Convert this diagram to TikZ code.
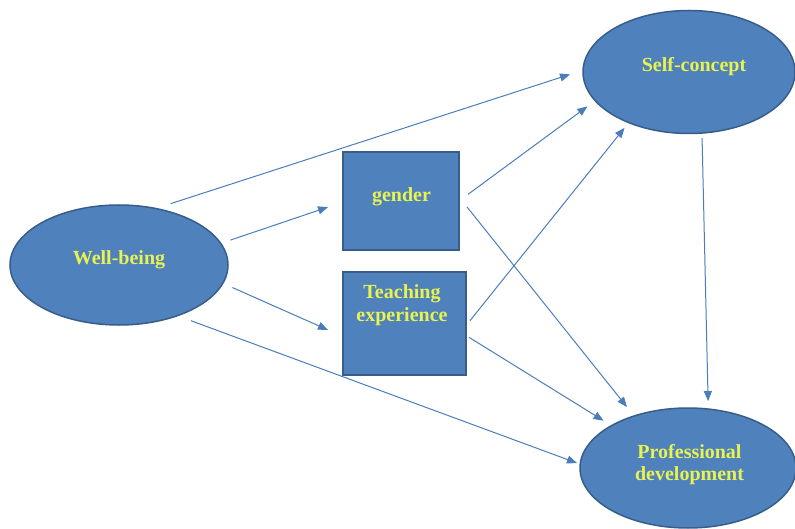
\documentclass[tikz,border=0pt]{standalone}
\usepackage{fontspec}
\setmainfont{Liberation Serif}
\usetikzlibrary{shapes.geometric,arrows.meta}
\definecolor{nodefill}{HTML}{4F81BD}
\definecolor{nodeline}{HTML}{385D8A}
\definecolor{linkblue}{HTML}{4A7EBB}
\definecolor{labelyellow}{RGB}{232,242,80}
\begin{document}
\begin{tikzpicture}[x=1pt,y=-1pt,
  oval/.style={ellipse, fill=nodefill, draw=nodeline, line width=1.5pt, inner sep=0pt, outer sep=0pt},
  stepbox/.style={rectangle, fill=nodefill, draw=nodeline, line width=1.5pt, inner sep=0pt, outer sep=0pt},
  caption/.style={text=labelyellow, font=\fontsize{20}{22.4}\selectfont\bfseries, align=center, inner sep=0pt},
  link/.style={draw=linkblue, line width=1pt, -{Triangle[length=10pt,width=8pt]}}]
  % canvas
  \path[fill=white, use as bounding box] (0,0) rectangle (795,529);

  % constructs
  \node[oval, minimum width=218pt, minimum height=120pt] (W) at (119,265) {};
  \node[oval, minimum width=212pt, minimum height=123pt] (S) at (689,72) {};
  \node[oval, minimum width=216pt, minimum height=120pt] (P) at (688,468) {};
  \node[stepbox, minimum width=116pt, minimum height=98pt] (G) at (401,201) {};
  \node[stepbox, minimum width=123pt, minimum height=103pt] (T) at (404.5,323.5) {};

  % labels
  \node[caption] (Wt) at (119,259.5) {Well-being};
  \node[caption] (St) at (694,67) {Self-concept};
  \node[caption] (Gt) at (401.5,196.5) {gender};
  \node[caption] (Tt) at (402,305) {Teaching\\experience};
  \node[caption] (Pt) at (689.5,464.5) {Professional\\development};

  % paths
  \draw[link, shorten <=15.8pt, shorten >=13.7pt] (W.57.7) -- (S.179.3);
  \draw[link, shorten <=10.3pt, shorten >=15.8pt] (W.12.7) -- (G.181.1);
  \draw[link, shorten <=10.5pt, shorten >=16.4pt] (W.-10.3) -- (T.192);
  \draw[link, shorten <=14.5pt, shorten >=3.4pt] (W.-41.6) -- (P.178);
  \draw[link, shorten <=11.2pt, shorten >=9.7pt] (G.-0.6) -- (S.197.5);
  \draw[link, shorten <=12.8pt, shorten >=11.5pt] (G.4.9) -- (P.136);
  \draw[link, shorten <=6.4pt, shorten >=6.7pt] (T.-2.3) -- (S.220.3);
  \draw[link, shorten <=3.5pt, shorten >=9.4pt] (T.-11.7) -- (P.151.4);
  \draw[link, shorten <=5pt, shorten >=8pt] (S.282) -- (P.71.3);
\end{tikzpicture}
\end{document}
